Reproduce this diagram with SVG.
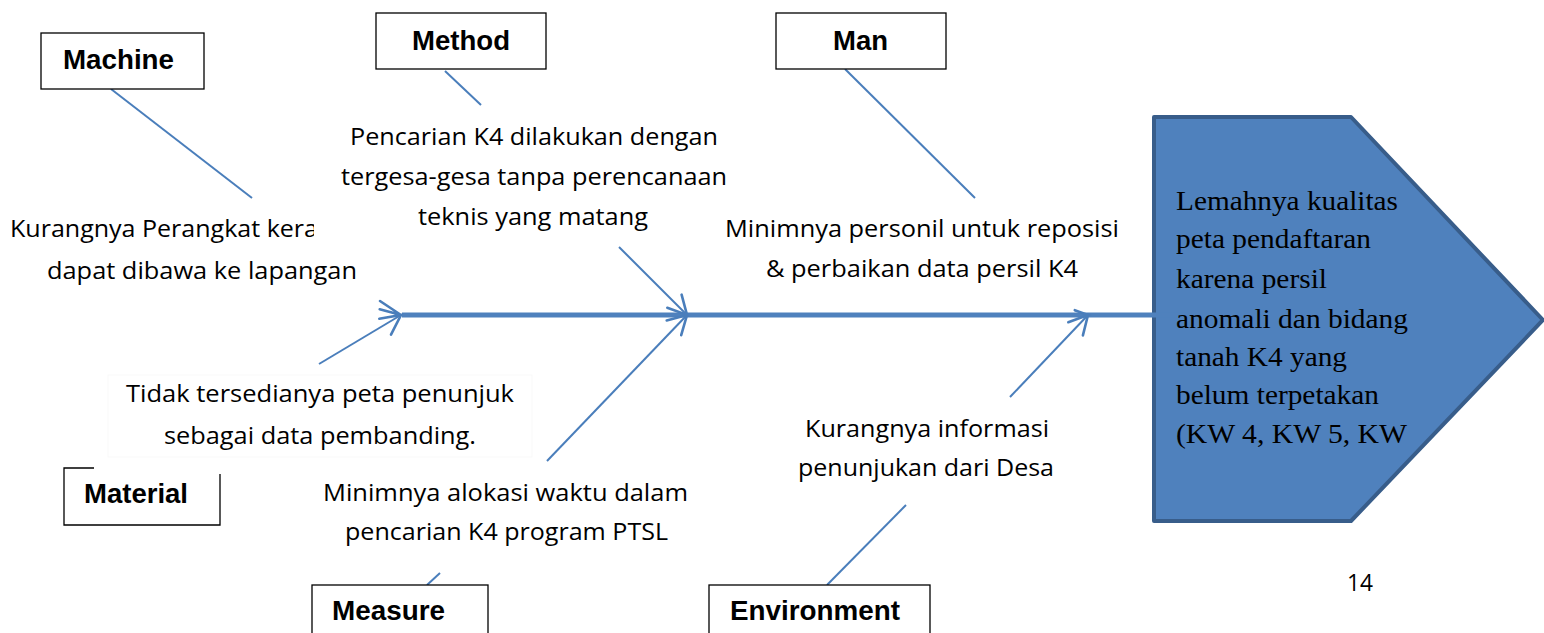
<svg xmlns="http://www.w3.org/2000/svg" width="1544" height="633" viewBox="0 0 1544 633">
<style>
.box{fill:#fff;stroke:#000;stroke-width:1.3}
.lbl{font-family:"Liberation Sans",Arial,sans-serif;font-weight:bold;font-size:27px;fill:#000}
.txt{font-family:"Open Sans","Noto Sans",sans-serif;font-size:24px;fill:#000}
.head{font-family:"Liberation Serif","Times New Roman",serif;font-size:28px;fill:#000}
.ln{stroke:#4A7EBB;stroke-width:2;fill:none}
.ah{stroke:#4A7EBB;stroke-width:2.6;fill:none;stroke-linecap:round}
</style>
<defs>
<clipPath id="clipK"><rect x="0" y="200" width="314" height="50"/></clipPath>
</defs>
<rect width="1544" height="633" fill="#fff"/>

<g id="effect">
<polygon points="1154,117 1351,117 1543,320 1351,521 1154,521" fill="#4F81BD" stroke="#385D8A" stroke-width="4" stroke-linejoin="round"/>
</g>

<g id="connectors">
<line x1="402" y1="315" x2="1188" y2="315" stroke="#4F81BD" stroke-width="5"/>
<line class="ln" x1="111" y1="89" x2="252" y2="198"/>
<line class="ln" x1="445" y1="71" x2="481" y2="105"/>
<line class="ln" x1="619" y1="247" x2="687" y2="315"/>
<line class="ln" x1="845" y1="69" x2="975" y2="198"/>
<line class="ln" x1="319" y1="364" x2="401" y2="315"/>
<line class="ln" x1="547" y1="461" x2="687" y2="315"/>
<line class="ln" x1="427" y1="585" x2="440" y2="573"/>
<line class="ln" x1="827" y1="585" x2="906" y2="505"/>
<line class="ln" x1="1010" y1="397" x2="1088" y2="315"/>
<path class="ah" d="M391,334.6 L401,315 L379.3,318.8 M379.7,309.3 L401,315 L380,301"/>
<path class="ah" d="M681.6,294.7 L687,315 L667.3,307.8 M666.7,320.4 L687,315 L681.2,335.2"/>
<path class="ah" d="M1074.8,310.2 L1088,315 L1068.3,322.2 M1088,315 L1082.9,335.4"/>
</g>

<g id="machine">
<rect class="box" x="41" y="33" width="163" height="56"/>
<text class="lbl" x="63" y="69" textLength="111" lengthAdjust="spacingAndGlyphs">Machine</text>
</g>
<g id="method">
<rect class="box" x="376" y="13" width="170" height="56"/>
<text class="lbl" x="412" y="50" textLength="98" lengthAdjust="spacingAndGlyphs">Method</text>
</g>
<g id="man">
<rect class="box" x="776" y="13" width="170" height="56"/>
<text class="lbl" x="833" y="50" textLength="55" lengthAdjust="spacingAndGlyphs">Man</text>
</g>
<g id="material">
<path d="M94,468 H64 V525 H220 V474" fill="none" stroke="#000" stroke-width="1.3"/>
<text class="lbl" x="84" y="503" textLength="104" lengthAdjust="spacingAndGlyphs">Material</text>
</g>
<g id="measure">
<rect class="box" x="312" y="585" width="176" height="60"/>
<text class="lbl" x="332" y="620" textLength="113" lengthAdjust="spacingAndGlyphs">Measure</text>
</g>
<g id="environment">
<rect class="box" x="709" y="585" width="221" height="60"/>
<text class="lbl" x="730" y="620" textLength="170" lengthAdjust="spacingAndGlyphs">Environment</text>
</g>

<g id="cause-machine">
<text class="txt" x="10" y="237" textLength="308" lengthAdjust="spacingAndGlyphs" clip-path="url(#clipK)">Kurangnya Perangkat kera</text>
<text class="txt" x="47" y="279" textLength="310" lengthAdjust="spacingAndGlyphs">dapat dibawa ke lapangan</text>
</g>
<g id="cause-method">
<text class="txt" x="350" y="145" textLength="368" lengthAdjust="spacingAndGlyphs">Pencarian K4 dilakukan dengan</text>
<text class="txt" x="341" y="185" textLength="386" lengthAdjust="spacingAndGlyphs">tergesa-gesa tanpa perencanaan</text>
<text class="txt" x="418" y="225" textLength="230" lengthAdjust="spacingAndGlyphs">teknis yang matang</text>
</g>
<g id="cause-man">
<text class="txt" x="725" y="237" textLength="394" lengthAdjust="spacingAndGlyphs">Minimnya personil untuk reposisi</text>
<text class="txt" x="766" y="277" textLength="312" lengthAdjust="spacingAndGlyphs">&amp; perbaikan data persil K4</text>
</g>
<g id="cause-material">
<rect x="108" y="375" width="424" height="82" fill="#fff" stroke="#f9f9f9" stroke-width="1"/>
<text class="txt" x="126" y="402" textLength="388" lengthAdjust="spacingAndGlyphs">Tidak tersedianya peta penunjuk</text>
<text class="txt" x="164" y="444" textLength="312" lengthAdjust="spacingAndGlyphs">sebagai data pembanding.</text>
</g>
<g id="cause-measure">
<text class="txt" x="323" y="501" textLength="365" lengthAdjust="spacingAndGlyphs">Minimnya alokasi waktu dalam</text>
<text class="txt" x="345" y="540" textLength="323" lengthAdjust="spacingAndGlyphs">pencarian K4 program PTSL</text>
</g>
<g id="cause-environment">
<text class="txt" x="805" y="437" textLength="244" lengthAdjust="spacingAndGlyphs">Kurangnya informasi</text>
<text class="txt" x="798" y="476" textLength="256" lengthAdjust="spacingAndGlyphs">penunjukan dari Desa</text>
</g>
<g id="effect-text">
<text class="head" x="1176" y="210" textLength="222" lengthAdjust="spacingAndGlyphs">Lemahnya kualitas</text>
<text class="head" x="1176" y="248" textLength="195" lengthAdjust="spacingAndGlyphs">peta pendaftaran</text>
<text class="head" x="1176" y="288" textLength="151" lengthAdjust="spacingAndGlyphs">karena persil</text>
<text class="head" x="1176" y="328" textLength="232" lengthAdjust="spacingAndGlyphs">anomali dan bidang</text>
<text class="head" x="1176" y="366" textLength="171" lengthAdjust="spacingAndGlyphs">tanah K4 yang</text>
<text class="head" x="1176" y="404" textLength="203" lengthAdjust="spacingAndGlyphs">belum terpetakan</text>
<text class="head" x="1176" y="443" textLength="231" lengthAdjust="spacingAndGlyphs">(KW 4, KW 5, KW</text>
</g>
<g id="page-number">
<text class="txt" x="1347" y="591" font-size="25" textLength="26" lengthAdjust="spacingAndGlyphs">14</text>
</g>
</svg>
